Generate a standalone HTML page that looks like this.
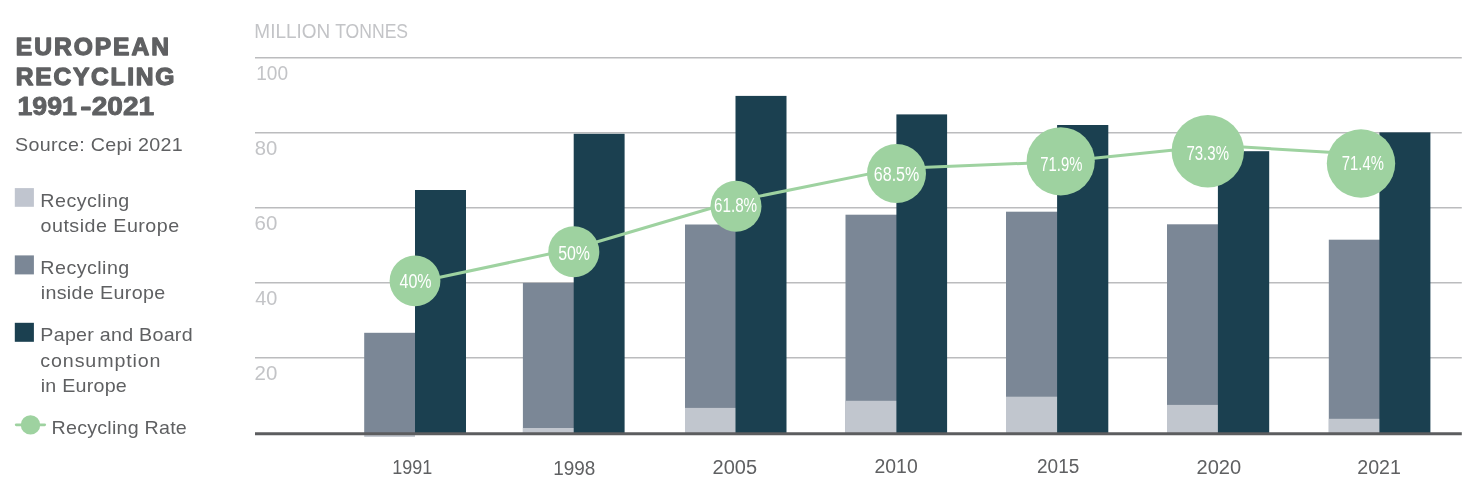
<!DOCTYPE html>
<html lang="en"><head><meta charset="utf-8"><title>European Recycling 1991-2021</title>
<style>
html,body{margin:0;padding:0;background:#fff;}
body{width:1468px;height:485px;overflow:hidden;}
svg{display:block;font-family:"Liberation Sans",sans-serif;}
</style></head><body>
<svg width="1468" height="485" viewBox="0 0 1468 485">
<rect width="1468" height="485" fill="#fff"/>
<text x="15.85" y="55.00" font-size="24.6" fill="#5f6062" font-weight="bold" stroke="#5f6062" stroke-width="1.3" stroke-linejoin="round" letter-spacing="1.964">EUROPEAN</text>
<text x="15.85" y="85.00" font-size="24.6" fill="#5f6062" font-weight="bold" stroke="#5f6062" stroke-width="1.3" stroke-linejoin="round" letter-spacing="1.708">RECYCLING</text>
<text y="115" font-size="25.2" fill="#5f6062" font-weight="bold" stroke="#5f6062" stroke-width="0.9" stroke-linejoin="round"><tspan x="17.46" textLength="59.44" lengthAdjust="spacingAndGlyphs">1991</tspan><tspan x="80.25" textLength="11.23" lengthAdjust="spacingAndGlyphs">-</tspan><tspan x="91.66" textLength="62.58" lengthAdjust="spacingAndGlyphs">2021</tspan></text>
<text x="15.07" y="151.00" font-size="19.0" fill="#5f6062" letter-spacing="0.286" textLength="167.92" lengthAdjust="spacingAndGlyphs">Source: Cepi 2021</text>
<rect x="14.8" y="188.1" width="19.1" height="18.7" fill="#c0c5cf"/>
<text x="40.35" y="207.00" font-size="19.0" fill="#5f6062" letter-spacing="0.448" textLength="89.42" lengthAdjust="spacingAndGlyphs">Recycling</text>
<text x="40.58" y="232.00" font-size="19.0" fill="#5f6062" letter-spacing="0.463" textLength="139.00" lengthAdjust="spacingAndGlyphs">outside Europe</text>
<rect x="14.8" y="255.4" width="19.1" height="19" fill="#7b8796"/>
<text x="40.35" y="274.00" font-size="19.0" fill="#5f6062" letter-spacing="0.448" textLength="89.42" lengthAdjust="spacingAndGlyphs">Recycling</text>
<text x="40.66" y="299.00" font-size="19.0" fill="#5f6062" letter-spacing="0.345" textLength="124.89" lengthAdjust="spacingAndGlyphs">inside Europe</text>
<rect x="14.8" y="322.8" width="19.1" height="19" fill="#1b4050"/>
<text x="40.35" y="341.00" font-size="19.0" fill="#5f6062" letter-spacing="0.247" textLength="152.52" lengthAdjust="spacingAndGlyphs">Paper and Board</text>
<text x="40.37" y="367.00" font-size="19.0" fill="#5f6062" letter-spacing="0.834" textLength="121.00" lengthAdjust="spacingAndGlyphs">consumption</text>
<text x="40.66" y="392.00" font-size="19.0" fill="#5f6062" letter-spacing="0.236" textLength="86.38" lengthAdjust="spacingAndGlyphs">in Europe</text>
<line x1="16.2" y1="424.8" x2="44.7" y2="424.8" stroke="#9ed2a0" stroke-width="2.7" stroke-linecap="round"/>
<circle cx="30.5" cy="424.9" r="9.7" fill="#9ed2a0"/>
<text x="51.55" y="434.00" font-size="19.0" fill="#5f6062" letter-spacing="0.223" textLength="135.48" lengthAdjust="spacingAndGlyphs">Recycling Rate</text>
<text y="38" font-size="19.3" fill="#c3c4c7"><tspan x="254.33" textLength="75.89" lengthAdjust="spacingAndGlyphs">MILLION</tspan> <tspan x="335.14" textLength="72.96" lengthAdjust="spacingAndGlyphs">TONNES</tspan></text>
<line x1="255" y1="57.7" x2="1461.8" y2="57.7" stroke="#bbbcbe" stroke-width="1.5"/>
<line x1="255" y1="132.7" x2="1461.8" y2="132.7" stroke="#bbbcbe" stroke-width="1.5"/>
<line x1="255" y1="207.7" x2="1461.8" y2="207.7" stroke="#bbbcbe" stroke-width="1.5"/>
<line x1="255" y1="282.7" x2="1461.8" y2="282.7" stroke="#bbbcbe" stroke-width="1.5"/>
<line x1="255" y1="357.7" x2="1461.8" y2="357.7" stroke="#bbbcbe" stroke-width="1.5"/>
<text x="256.27" y="80.00" font-size="20" fill="#c3c4c7" textLength="31.82" lengthAdjust="spacingAndGlyphs">100</text>
<text x="254.79" y="155.00" font-size="20" fill="#c3c4c7" textLength="22.54" lengthAdjust="spacingAndGlyphs">80</text>
<text x="254.58" y="230.00" font-size="20" fill="#c3c4c7" textLength="22.76" lengthAdjust="spacingAndGlyphs">60</text>
<text x="255.20" y="305.00" font-size="20" fill="#c3c4c7" textLength="22.12" lengthAdjust="spacingAndGlyphs">40</text>
<text x="254.58" y="380.00" font-size="20" fill="#c3c4c7" textLength="22.76" lengthAdjust="spacingAndGlyphs">20</text>
<rect x="364.2" y="332.8" width="51.8" height="100.2" fill="#7b8796"/>
<rect x="415.0" y="190.0" width="51.0" height="243.0" fill="#1b4050"/>
<rect x="522.9" y="282.9" width="51.8" height="150.1" fill="#7b8796"/>
<rect x="522.9" y="428.0" width="51.8" height="5.0" fill="#c1c6ce"/>
<rect x="573.7" y="133.8" width="50.9" height="299.2" fill="#1b4050"/>
<rect x="685.0" y="224.5" width="51.5" height="208.5" fill="#7b8796"/>
<rect x="685.0" y="407.9" width="51.5" height="25.1" fill="#c1c6ce"/>
<rect x="735.5" y="95.9" width="51.0" height="337.1" fill="#1b4050"/>
<rect x="845.5" y="214.7" width="51.9" height="218.3" fill="#7b8796"/>
<rect x="845.5" y="400.8" width="51.9" height="32.2" fill="#c1c6ce"/>
<rect x="896.4" y="114.4" width="50.7" height="318.6" fill="#1b4050"/>
<rect x="1006.0" y="211.7" width="52.1" height="221.3" fill="#7b8796"/>
<rect x="1006.0" y="396.7" width="52.1" height="36.3" fill="#c1c6ce"/>
<rect x="1057.1" y="125.0" width="51.2" height="308.0" fill="#1b4050"/>
<rect x="1167.0" y="224.3" width="51.9" height="208.7" fill="#7b8796"/>
<rect x="1167.0" y="404.9" width="51.9" height="28.1" fill="#c1c6ce"/>
<rect x="1217.9" y="151.2" width="51.3" height="281.8" fill="#1b4050"/>
<rect x="1328.8" y="239.7" width="51.6" height="193.3" fill="#7b8796"/>
<rect x="1328.8" y="418.8" width="51.6" height="14.2" fill="#c1c6ce"/>
<rect x="1379.4" y="132.4" width="51.0" height="300.6" fill="#1b4050"/>
<rect x="364.2" y="433" width="50.8" height="3.9" fill="#c1c6ce"/>
<line x1="255" y1="433.78" x2="1461.8" y2="433.78" stroke="#5c5d5f" stroke-width="2.9"/>
<text x="392.25" y="474.00" font-size="20" fill="#5f6062" textLength="39.98" lengthAdjust="spacingAndGlyphs">1991</text>
<text x="553.18" y="475.00" font-size="20" fill="#5f6062" textLength="42.10" lengthAdjust="spacingAndGlyphs">1998</text>
<text x="712.60" y="474.00" font-size="20" fill="#5f6062" textLength="44.42" lengthAdjust="spacingAndGlyphs">2005</text>
<text x="874.53" y="473.00" font-size="20" fill="#5f6062" textLength="43.17" lengthAdjust="spacingAndGlyphs">2010</text>
<text x="1037.05" y="473.00" font-size="20" fill="#5f6062" textLength="42.23" lengthAdjust="spacingAndGlyphs">2015</text>
<text x="1196.50" y="474.00" font-size="20" fill="#5f6062" textLength="44.63" lengthAdjust="spacingAndGlyphs">2020</text>
<text x="1357.32" y="474.00" font-size="20" fill="#5f6062" textLength="43.58" lengthAdjust="spacingAndGlyphs">2021</text>
<polyline points="415.2,282.5 573.7,248.8 735.5,201.0 896.4,168.4 1057.0,162.0 1217.9,145.6 1379.5,155.2" fill="none" stroke="#9ed2a0" stroke-width="3.0" stroke-linejoin="round"/>
<circle cx="415.0" cy="280.9" r="25.4" fill="#9ed2a0"/>
<text x="399.47" y="288.00" font-size="19.7" fill="#fff" textLength="32.13" lengthAdjust="spacingAndGlyphs">40%</text>
<circle cx="573.8" cy="251.8" r="25.5" fill="#9ed2a0"/>
<text x="558.13" y="260.00" font-size="19.7" fill="#fff" textLength="31.86" lengthAdjust="spacingAndGlyphs">50%</text>
<circle cx="736.0" cy="206.2" r="25.5" fill="#9ed2a0"/>
<text x="713.93" y="212.00" font-size="19.7" fill="#fff" textLength="43.25" lengthAdjust="spacingAndGlyphs">61.8%</text>
<circle cx="896.5" cy="173.5" r="29.5" fill="#9ed2a0"/>
<text x="873.79" y="181.00" font-size="19.7" fill="#fff" textLength="45.52" lengthAdjust="spacingAndGlyphs">68.5%</text>
<circle cx="1060.7" cy="161.3" r="34.1" fill="#9ed2a0"/>
<text x="1040.25" y="171.00" font-size="19.7" fill="#fff" textLength="42.12" lengthAdjust="spacingAndGlyphs">71.9%</text>
<circle cx="1207.8" cy="151.2" r="36.2" fill="#9ed2a0"/>
<text x="1186.44" y="160.00" font-size="19.7" fill="#fff" textLength="42.53" lengthAdjust="spacingAndGlyphs">73.3%</text>
<circle cx="1361.0" cy="163.5" r="34.2" fill="#9ed2a0"/>
<text x="1341.85" y="170.00" font-size="19.7" fill="#fff" textLength="42.02" lengthAdjust="spacingAndGlyphs">71.4%</text>
</svg></body></html>
